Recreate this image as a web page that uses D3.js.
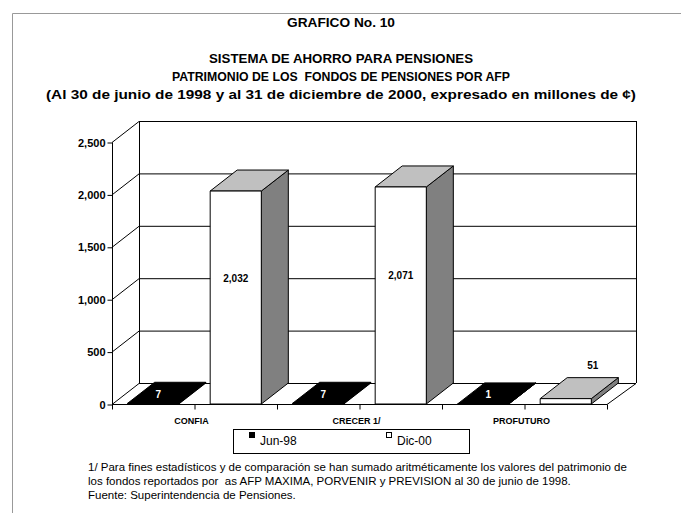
<!DOCTYPE html>
<html lang="es">
<head>
<meta charset="UTF-8">
<title>Grafico No. 10</title>
<script src="https://d3js.org/d3.v7.min.js"></script>
<style>
    body { margin: 0; background: #fff; }
    svg text { font-family: "Liberation Sans", Arial, sans-serif; }
    .title { font-weight: bold; font-size: 13px; }
    .tick-y { font-weight: bold; font-size: 11px; }
    .cat { font-weight: bold; font-size: 9px; }
    .lbl { font-weight: bold; font-size: 10px; }
    .legend { font-size: 12px; }
    .note { font-size: 11.5px; }
</style>
</head>
<body>
<div id="chart"></div>
<script>
    // data
    var categories = ["CONFIA", "CRECER 1/", "PROFUTURO"];
    var seriesNames = ["Jun-98", "Dic-00"];
    var jun98 = [7, 7, 1];
    var dic00 = [2032, 2071, 51];
    var yTicks = [0, 500, 1000, 1500, 2000, 2500];

    var W = 681, H = 513;
    var svg = d3.select("#chart").append("svg")
        .attr("width", W).attr("height", H);

    // outer frame (only top and left visible)
    svg.append("path")
        .attr("d", "M12.5,513 V13.5 H681")
        .attr("fill", "none").attr("stroke", "#999").attr("stroke-width", 1);

    // titles
    var titles = [
        {t: "GRAFICO No. 10", y: 27, w: 108},
        {t: "SISTEMA DE AHORRO PARA PENSIONES", y: 63, w: 264},
        {t: "PATRIMONIO DE LOS  FONDOS DE PENSIONES POR AFP", y: 81, w: 338},
        {t: "(Al 30 de junio de 1998 y al 31 de diciembre de 2000, expresado en millones de \u00a2)", y: 99, w: 590}
    ];
    svg.selectAll(".title").data(titles).enter().append("text")
        .attr("class", "title")
        .attr("x", 341).attr("y", function (d) { return d.y; })
        .attr("text-anchor", "middle")
        .attr("textLength", function (d) { return d.w; })
        .attr("lengthAdjust", "spacingAndGlyphs")
        .style("white-space", "pre")
        .text(function (d) { return d.t; });

    // scales
    var dx = 27, dy = -21;
    var x0 = d3.scaleBand().domain(categories).range([112, 607]);
    var x1 = d3.scaleBand().domain(seriesNames).range([0, x0.bandwidth()])
        .paddingInner(0.38).paddingOuter(0.19);
    var y = d3.scaleLinear().domain([0, 2500]).range([404, 142]);

    var g = svg.append("g");

    // back wall grid lines + left wall diagonals
    g.selectAll(".grid").data(yTicks).enter().append("line")
        .attr("x1", 112 + dx).attr("x2", 607 + dx + 2)
        .attr("y1", function (d) { return y(d) + dy + 0.5; })
        .attr("y2", function (d) { return y(d) + dy + 0.5; })
        .attr("stroke", "#000");
    g.selectAll(".diag").data(yTicks).enter().append("line")
        .attr("x1", 112).attr("x2", 112 + dx)
        .attr("y1", function (d) { return y(d) + 0.5; })
        .attr("y2", function (d) { return y(d) + dy + 0.5; })
        .attr("stroke", "#000");
    // wall edges
    g.append("line").attr("x1", 112 + dx + 0.5).attr("x2", 112 + dx + 0.5)
        .attr("y1", y(2500) + dy).attr("y2", y(0) + dy).attr("stroke", "#000");
    g.append("line").attr("x1", 609 + dx + 0.5).attr("x2", 609 + dx + 0.5)
        .attr("y1", y(2500) + dy).attr("y2", y(0) + dy).attr("stroke", "#000");
    // floor right edge
    g.append("line").attr("x1", 607).attr("x2", 609 + dx)
        .attr("y1", y(0) + 0.5).attr("y2", y(0) + dy + 0.5).attr("stroke", "#000");

    // y axis
    var yAxis = d3.axisLeft(y).tickValues(yTicks).tickSize(5).tickPadding(2)
        .tickFormat(d3.format(","));
    var ya = g.append("g").attr("transform", "translate(112.5,0.5)").call(yAxis);
    ya.select(".domain").attr("stroke", "#000").attr("d", "M0," + y(2500) + "V" + y(0));
    ya.selectAll("text").attr("class", "tick-y").attr("font-size", null)
        .attr("font-family", null).attr("fill", "#000");

    // x axis: floor front line with ticks at band edges and centres
    var xa = g.append("g").attr("transform", "translate(0," + (y(0) + 0.5) + ")");
    xa.append("line").attr("x1", 112).attr("x2", 607).attr("stroke", "#000");
    var xt = [];
    categories.forEach(function (c) { xt.push(x0(c)); xt.push(x0(c) + x0.bandwidth() / 2); });
    xt.push(607);
    xa.selectAll(".xt").data(xt).enter().append("line")
        .attr("x1", function (d) { return d + 0.5; }).attr("x2", function (d) { return d + 0.5; })
        .attr("y1", 0).attr("y2", 5).attr("stroke", "#000");
    xa.selectAll(".cat").data(categories).enter().append("text")
        .attr("class", "cat").attr("text-anchor", "middle")
        .attr("x", function (d) { return x0(d) + x0.bandwidth() / 2 - 3; })
        .attr("y", 19).text(function (d) { return d; });

    // bars
    var bars = [];
    categories.forEach(function (c, i) {
        bars.push({cat: c, s: "Jun-98", v: jun98[i]});
        bars.push({cat: c, s: "Dic-00", v: dic00[i]});
    });
    var fills = {"Jun-98": ["#000", "#000", "#000"], "Dic-00": ["#fff", "#c0c0c0", "#808080"]};

    bars.forEach(function (b) {
        var bx = x0(b.cat) + x1(b.s), w = x1.bandwidth();
        var yv = y(b.v), yb = y(0);
        var f = fills[b.s];
        var bg = g.append("g").attr("stroke", "#000").attr("stroke-width", 1)
            .attr("stroke-linejoin", "round");
        bg.append("path").attr("fill", f[2])
            .attr("d", "M" + (bx + w) + "," + yv + "L" + (bx + w + dx) + "," + (yv + dy) +
                "L" + (bx + w + dx) + "," + (yb + dy) + "L" + (bx + w) + "," + yb + "Z");
        bg.append("path").attr("fill", f[1])
            .attr("d", "M" + bx + "," + yv + "L" + (bx + dx) + "," + (yv + dy) +
                "L" + (bx + w + dx) + "," + (yv + dy) + "L" + (bx + w) + "," + yv + "Z");
        bg.append("rect").attr("fill", f[0])
            .attr("x", bx).attr("y", yv).attr("width", w).attr("height", yb - yv);

        var t = g.append("text").attr("class", "lbl").attr("text-anchor", "middle")
            .text(d3.format(",")(b.v));
        if (b.s === "Jun-98") {
            t.attr("x", bx + w / 2 + 5).attr("y", yb - 6).attr("fill", "#fff");
        } else if (b.v > 500) {
            t.attr("x", bx + w / 2).attr("y", (yv + yb) / 2 - 16).attr("fill", "#000");
        } else {
            t.attr("x", bx + w / 2 + dx).attr("y", yv + dy - 9).attr("fill", "#000");
        }
    });

    // legend
    var lg = svg.append("g");
    lg.append("rect").attr("x", 233.5).attr("y", 429.5).attr("width", 236).attr("height", 24)
        .attr("fill", "#fff").attr("stroke", "#000");
    var legX = [249, 386];
    seriesNames.forEach(function (s, i) {
        lg.append("rect").attr("x", legX[i] + 0.5).attr("y", 432.5).attr("width", 5).attr("height", 5)
            .attr("fill", s === "Jun-98" ? "#000" : "#fff").attr("stroke", "#000");
        lg.append("text").attr("class", "legend").attr("x", legX[i] + 11).attr("y", 445).text(s);
    });

    // notes
    var notes = [
        "1/ Para fines estad\u00edsticos y de comparaci\u00f3n se han sumado aritm\u00e9ticamente los valores del patrimonio de",
        "los fondos reportados por  as AFP MAXIMA, PORVENIR y PREVISION al 30 de junio de 1998.",
        "Fuente: Superintendencia de Pensiones."
    ];
    svg.selectAll(".note").data(notes).enter().append("text")
        .attr("class", "note").attr("x", 88)
        .attr("y", function (d, i) { return 471 + i * 14; })
        .style("white-space", "pre")
        .text(function (d) { return d; });
</script>
</body>
</html>
